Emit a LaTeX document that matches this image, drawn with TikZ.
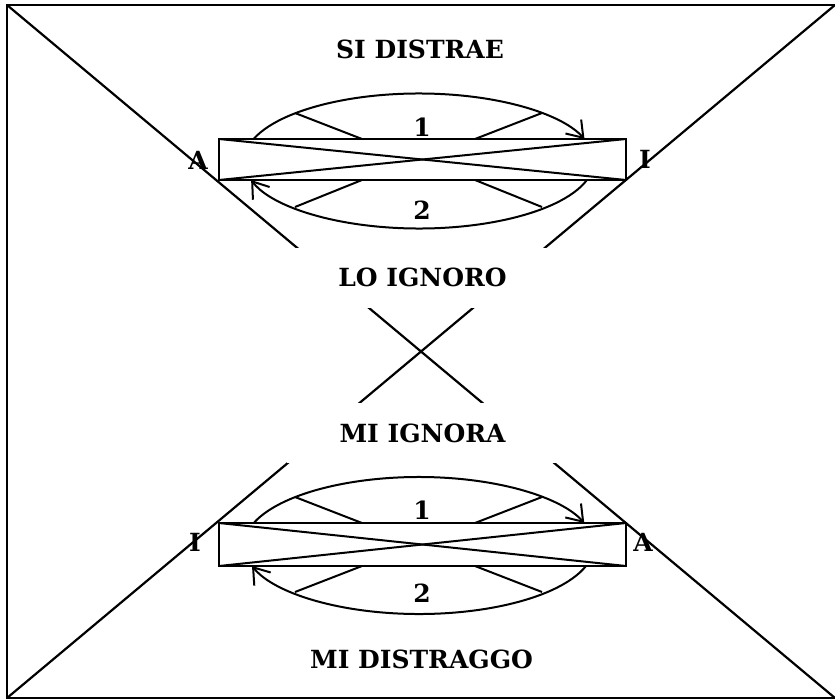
\documentclass[tikz,border=0pt]{standalone}
\usepackage{fontspec}
\setmainfont{DejaVu Serif}
\usetikzlibrary{arrows.meta}
\begin{document}
\begin{tikzpicture}[x=1pt,y=-1pt,
  edge/.style={line width=2.2pt},
  caption/.style={font=\bfseries\fontsize{25}{28}\selectfont, inner sep=0pt},
  blank/.style={fill=white, minimum width=272pt, minimum height=60pt},
  bar/.style={draw, fill=white, line width=2.2pt, minimum width=407pt,
              minimum height=41pt, inner sep=0pt, outer sep=0pt},
  loop/.style={line width=2pt, -{Straight Barb[length=15pt,width=21pt,line width=2pt]}},
  spoke/.style={line width=2pt},
]
\useasboundingbox (0,0) rectangle (835,699);

% outer frame and its two diagonals
\coordinate (tl) at (7,5);
\coordinate (tr) at (835,5);
\coordinate (bl) at (7,698);
\coordinate (br) at (835,698);
\draw[edge] (7,5) rectangle (840,698);
\draw[edge] (tl) -- (br);
\draw[edge] (tr) -- (bl);

% middle captions, blanking the diagonals behind them
\node[blank, caption] (lo) at (422.5,277.5) {LO IGNORO};
\node[blank, caption] (mi) at (422.5,433) {MI IGNORA};

% top and bottom captions
\node[caption] (si) at (420,49.5) {SI DISTRAE};
\node[caption] (md) at (421.5,659.5) {MI DISTRAGGO};

% ---------- upper loop ----------
\draw[spoke] (295,113) -- (362,139);
\draw[spoke] (542,113) -- (475,139);
\draw[spoke] (295,207) -- (362,180);
\draw[spoke] (542,207) -- (475,180);
\node[bar] (r1) at (422.5,159.5) {};
\draw[spoke] (r1.north west) -- (r1.south east);
\draw[spoke] (r1.south west) -- (r1.north east);
\draw[loop] (419,161) ++(-161:175 and 67.5)
  arc[start angle=-161, end angle=-19, x radius=175, y radius=67.5];
\draw[loop] (419,161) ++(16.4:175 and 67.5)
  arc[start angle=16.4, end angle=163.6, x radius=175, y radius=67.5];
\node[caption] (n1) at (422,127) {1};
\node[caption] (n2) at (422,210) {2};
\node[caption] (a1) at (198,160) {A};
\node[caption] (i1) at (645,159) {I};

% ---------- lower loop ----------
\draw[spoke] (295,497) -- (362,523);
\draw[spoke] (542,497) -- (475,523);
\draw[spoke] (295,592) -- (362,566);
\draw[spoke] (542,592) -- (475,566);
\node[bar, minimum height=43pt] (r2) at (422.5,544.5) {};
\draw[spoke] (r2.north west) -- (r2.south east);
\draw[spoke] (r2.south west) -- (r2.north east);
\draw[loop] (419,545.5) ++(-160.8:175 and 68.5)
  arc[start angle=-160.8, end angle=-19.2, x radius=175, y radius=68.5];
\draw[loop] (419,545.5) ++(17.4:175 and 68.5)
  arc[start angle=17.4, end angle=162.6, x radius=175, y radius=68.5];
\node[caption] (n3) at (422,510) {1};
\node[caption] (n4) at (422,593) {2};
\node[caption] (i2) at (195,542) {I};
\node[caption] (a2) at (643,542) {A};
\end{tikzpicture}
\end{document}
